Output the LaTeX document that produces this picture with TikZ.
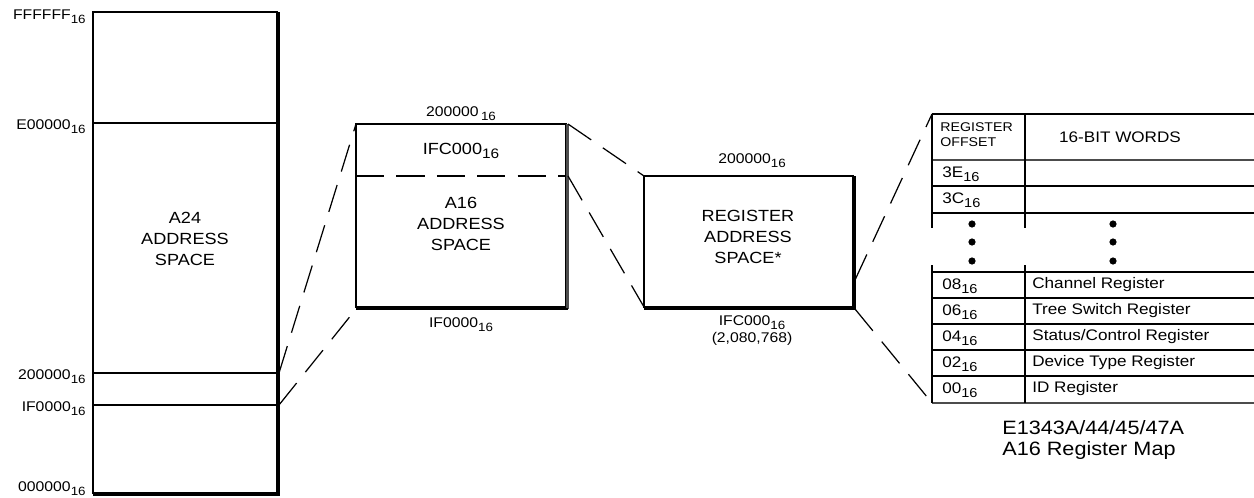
\documentclass[tikz,border=0pt]{standalone}
\usepackage{fontspec}
\setmainfont[FakeStretch=1.12]{Liberation Sans}
\usetikzlibrary{positioning}
\newcommand{\radix}{\raisebox{-0.55ex}{\scalebox{0.85}{16}}}
\tikzset{
  edge/.style={line width=0.7pt},
  heavy/.style={line width=1.4pt, black!70},
  zoomline/.style={line width=0.7pt, dash pattern=on 16pt off 8pt},
  split/.style={line width=0.7pt, dash pattern=on 16pt off 7pt},
  side/.style={font=\fontsize{8}{9}\selectfont, inner sep=0pt},
  big/.style={font=\fontsize{9.2}{12}\selectfont, align=center, inner sep=0pt},
  cell/.style={font=\fontsize{8.7}{9}\selectfont, anchor=west, inner sep=0pt},
  head/.style={font=\fontsize{7.2}{8.6}\selectfont, align=left, anchor=west, inner sep=0pt},
}
\begin{document}
\begin{tikzpicture}[x=0.02cm,y=-0.02cm]
\useasboundingbox (0,0) rectangle (1254,497);

% A24 column
\draw[edge] (93,12) rectangle (277,493);
\draw[edge] (279,12) -- (279,495) -- (93,495);
\foreach \y in {123,373,405}
  \draw[edge] (93,\y) -- (277,\y);
\foreach \y/\t/\n in {17/FFFFFF/top, 127/E00000/e0, 377/200000/lo2, 409/IF0000/lo1, 489/000000/zero}
  \node[side, anchor=east] (\n) at (86,\y) {\t\radix};
\node[big] (a24) at (185,239) {A24\\ADDRESS\\SPACE};
\coordinate (a24-hi) at (279,373);
\coordinate (a24-lo) at (279,405);

% A16 box
\draw[edge] (356,124) rectangle (566,307);
\draw[heavy] (567.5,124) -- (567.5,309);
\draw[edge] (356,309) -- (568,309);
\draw[split] (356,176) -- (566,176);
\coordinate (a16-tl) at (356,124);
\coordinate (a16-bl) at (356,309);
\coordinate (a16-tr) at (568,124);
\coordinate (a16-mr) at (568,176);
\node[side] (a16-top) at (461,114) {200000\,\radix};
\node[big] (a16-reg) at (461,151) {IFC000\radix};
\node[big] (a16) at (461,224) {A16\\ADDRESS\\SPACE};
\node[side] (a16-bot) at (461,325) {IF0000\radix};

% register box
\draw[edge] (644,176) rectangle (853,307);
\draw[edge] (855,176) -- (855,309) -- (644,309);
\coordinate (reg-tl) at (644,176);
\coordinate (reg-bl) at (644,307);
\coordinate (reg-r) at (855,280);
\coordinate (reg-br) at (855,309);
\node[side] (reg-top) at (752,161) {200000\radix};
\node[big] (reg) at (748,237) {REGISTER\\ADDRESS\\SPACE*};
\node[side] (reg-bot) at (752,323) {IFC000\radix};
\node[side] (reg-dec) at (752,339) {(2,080,768)};

% register map
\foreach \y in {114,186,213,272,298,324,350,376}
  \draw[edge] (932,\y) -- (1254,\y);
\draw[heavy] (932,160) -- (1254,160);
\draw[heavy] (932,403) -- (1254,403);
\foreach \x in {932,1025}
{
  \draw[edge] (\x,114) -- (\x,228);
  \draw[edge] (\x,265) -- (\x,403);
}
\coordinate (map-tl) at (932,114);
\coordinate (map-bl) at (932,403);
\node[head] (offset) at (940,135) {REGISTER\\OFFSET};
\node[cell, anchor=center] (words) at (1120,137) {16-BIT WORDS};
\node[cell] (off-3E) at (942,174) {3E\radix};
\node[cell] (off-3C) at (942,200) {3C\radix};
\foreach \y in {224,242,261}
{
  \filldraw (972,\y) circle (3.2);
  \filldraw (1113,\y) circle (3.2);
}
\foreach \y/\off/\name in {286/08/Channel Register, 312/06/Tree Switch Register, 338/04/{Status/Control Register}, 364/02/Device Type Register, 390/00/ID Register}
{
  \node[cell] (off-\off) at (942,\y) {\off\radix};
  \node[cell] (name-\off) at (1032,\y-1) {\name};
}
\node[font=\fontsize{11}{11.5}\selectfont, align=left, anchor=west, inner sep=0pt] (caption) at (1002,440) {E1343A/44/45/47A\\A16 Register Map};

% zoom lines
\draw[zoomline] (a24-hi) -- (a16-tl);
\draw[zoomline] (a24-lo) -- (a16-bl);
\draw[zoomline] (a16-tr) -- (reg-tl);
\draw[zoomline] (a16-mr) -- (reg-bl);
\draw[zoomline] (reg-r) -- (map-tl);
\draw[zoomline] (reg-br) -- (map-bl);
\end{tikzpicture}
\end{document}
